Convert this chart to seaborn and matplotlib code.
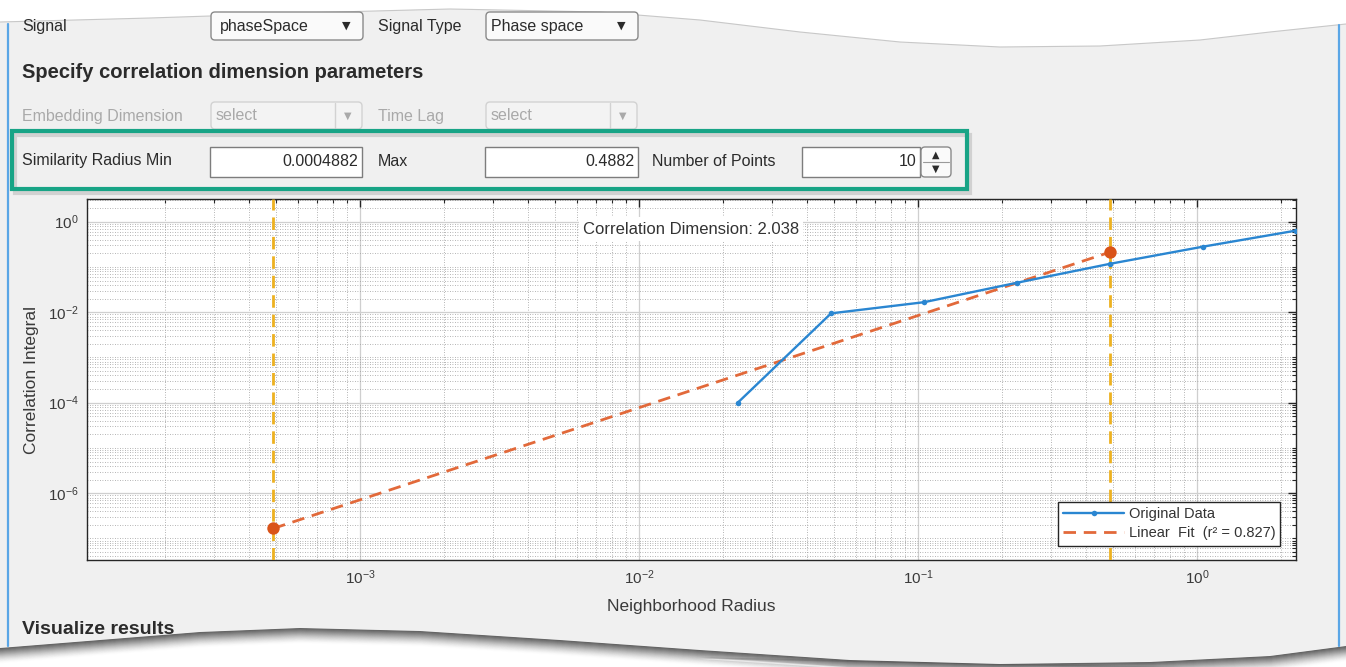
import numpy as np
import matplotlib
matplotlib.use("Agg")
import matplotlib.pyplot as plt
import matplotlib.ticker as mticker
from matplotlib.patches import Polygon, FancyBboxPatch, Rectangle
from matplotlib.lines import Line2D
from matplotlib.transforms import Affine2D
import seaborn as sns

# values
radius = [0.0226, 0.04882, 0.1052, 0.2266, 0.4882, 1.052, 2.266]
corr_integral = [1.0e-4, 0.0094, 0.0166, 0.0447, 0.117, 0.28, 0.634]
fit_radius = [0.0004882, 0.4882]
fit_integral = [1.66e-7, 0.212]
corr_dim = 2.038
r_squared = 0.827
x_ticks = [1e-3, 1e-2, 1e-1, 1e0]
y_ticks = [1e-6, 1e-4, 1e-2, 1e0]

W, H = 1346, 667
BLUE = "#2a86d1"
ORANGE = "#D95319"
FIT = "#e2693a"
YELLOW = "#EDB120"
PANEL = "#f0f0f0"
TXT = "#2b2b2b"

sns.set_style("white")
plt.rcParams["font.family"] = ["Liberation Sans", "DejaVu Sans"]
plt.rcParams["mathtext.fontset"] = "custom"
plt.rcParams["mathtext.rm"] = "Liberation Sans"
plt.rcParams["mathtext.it"] = "Liberation Sans:italic"

fig = plt.figure(figsize=(W / 100, H / 100), dpi=100, facecolor="white")
# pixel coordinates, y pointing down like the screenshot
T = Affine2D().scale(1, -1).translate(0, H)

# torn paper panel
top_edge = [(0, 22), (150, 18), (300, 13), (450, 9), (600, 12), (700, 20), (800, 32),
            (900, 42), (1000, 47), (1100, 46), (1200, 40), (1270, 32), (1346, 24)]
bottom_edge = [(1346, 646), (1270, 656), (1150, 662), (1000, 664), (850, 660), (700, 650),
               (560, 640), (420, 631), (300, 628), (200, 632), (100, 640), (0, 648)]
panel = Polygon(top_edge + bottom_edge, closed=True, facecolor=PANEL, edgecolor="none",
                transform=T, zorder=-5)
fig.add_artist(panel)
fig.add_artist(Line2D([p[0] for p in top_edge], [p[1] for p in top_edge], transform=T,
                      color="#c8c8c8", lw=0.8, zorder=-4))
bx = np.array([p[0] for p in bottom_edge], float)
by = np.array([p[1] for p in bottom_edge], float)
for k in range(16):
    fig.add_artist(Line2D(bx, by + k, transform=T, color="#404040",
                          alpha=0.7 * (1 - k / 16) ** 1.8, lw=1.2, zorder=-6))

# window borders
fig.add_artist(Line2D([8, 8], [24, 646], transform=T, color="#5aa6e6", lw=1.6, zorder=-3))
fig.add_artist(Line2D([1339, 1339], [25, 646], transform=T, color="#5aa6e6", lw=1.6, zorder=-3))


def ui_text(x, y, s, size=11.5, color=TXT, weight="normal", ha="left", family=None):
    t = fig.text(x, y, s, transform=T, fontsize=size, color=color, fontweight=weight,
                 ha=ha, va="center", zorder=2)
    if family:
        t.set_family(family)
    return t


def ui_box(x0, y0, x1, y1, face="white", edge="#7d7d7d", rounded=False, lw=1.0):
    style = "round,pad=0,rounding_size=4" if rounded else "square,pad=0"
    fig.add_artist(FancyBboxPatch((x0, y0), x1 - x0, y1 - y0, boxstyle=style, transform=T,
                                  facecolor=face, edgecolor=edge, lw=lw, zorder=1))


arrow_font = ["DejaVu Sans"]

# row 1
ui_text(22, 27, "Signal")
ui_box(211, 12, 363, 40, face="#fafafa", edge="#8a8a8a", rounded=True)
ui_text(220, 26, "phaseSpace")
ui_text(346, 26, "▼", size=8, family=arrow_font, ha="center")
ui_text(378, 27, "Signal Type")
ui_box(486, 12, 638, 40, face="#fafafa", edge="#8a8a8a", rounded=True)
ui_text(491, 26, "Phase space")
ui_text(621, 26, "▼", size=8, family=arrow_font, ha="center")

ui_text(22, 73, "Specify correlation dimension parameters", size=14.5, weight="bold")

# row 2 (disabled)
GREY = "#a9a9a9"
ui_text(22, 116, "Embedding Dimension", color=GREY)
ui_box(211, 102, 362, 129, face="#f3f3f3", edge="#d2d2d2", rounded=True)
ui_text(216, 116, "select", color=GREY)
fig.add_artist(Line2D([335, 335], [103, 128], transform=T, color="#d2d2d2", lw=1, zorder=2))
ui_text(348, 116, "▼", size=7, color=GREY, family=arrow_font, ha="center")
ui_text(378, 116, "Time Lag", color=GREY)
ui_box(486, 102, 637, 129, face="#f3f3f3", edge="#d2d2d2", rounded=True)
ui_text(491, 116, "select", color=GREY)
fig.add_artist(Line2D([610, 610], [103, 128], transform=T, color="#d2d2d2", lw=1, zorder=2))
ui_text(623, 116, "▼", size=7, color=GREY, family=arrow_font, ha="center")

# highlighted row
fig.add_artist(Rectangle((15, 135), 955, 58, transform=T, facecolor="none",
                         edgecolor="#bdbdbd", lw=3, zorder=0.5, alpha=0.6))
fig.add_artist(Rectangle((12, 131), 955, 58, transform=T, facecolor="none",
                         edgecolor="#18a486", lw=3, zorder=3))
ui_text(22, 161, "Similarity Radius Min")
ui_box(210, 147, 362, 177)
ui_text(358, 162, "0.0004882", ha="right")
ui_text(378, 161, "Max")
ui_box(485, 147, 638, 177)
ui_text(634, 162, "0.4882", ha="right")
ui_text(652, 161, "Number of Points")
ui_box(802, 147, 920, 177)
ui_text(916, 162, "10", ha="right")
ui_box(921, 147, 951, 177, face="#fafafa", edge="#8a8a8a", rounded=True)
fig.add_artist(Line2D([923, 949], [162, 162], transform=T, color="#9a9a9a", lw=0.8, zorder=2))
ui_text(936, 155, "▲", size=7, family=arrow_font, ha="center")
ui_text(936, 169, "▼", size=7, family=arrow_font, ha="center")

vis = ui_text(22, 629, "Visualize results", size=14, weight="bold")
vis.set_clip_path(panel)

# the plot
ax = fig.add_axes([87 / W, 1 - 560 / H, (1296 - 87) / W, (560 - 199) / H])
ax.set_facecolor("white")
ax.set_xscale("log")
ax.set_yscale("log")

for r in fit_radius:
    ax.axvline(r, color=YELLOW, lw=2, ls=(0, (4.5, 2.5)), zorder=3)

ax.plot(fit_radius, fit_integral, color=FIT, lw=2, ls=(0, (4.5, 2.8)), zorder=4,
        label=f"Linear  Fit  (r² = {r_squared})")
sns.lineplot(x=radius, y=corr_integral, ax=ax, color=BLUE, lw=1.7, marker="o",
             markersize=4, markeredgewidth=0, label="Original Data", zorder=5)
sns.scatterplot(x=fit_radius, y=fit_integral, ax=ax, color=ORANGE, s=80, linewidth=0,
                zorder=6, legend=False)

ax.set_xlim(1.05e-4, 2.266)
ax.set_ylim(10 ** -7.476, 10 ** 0.5)

ax.xaxis.set_major_locator(mticker.FixedLocator(x_ticks))
ax.xaxis.set_minor_locator(mticker.LogLocator(base=10, subs=np.arange(2, 10), numticks=50))
ax.yaxis.set_major_locator(mticker.FixedLocator(y_ticks))
ax.yaxis.set_minor_locator(mticker.LogLocator(base=10, subs=np.arange(1, 10), numticks=50))
ax.xaxis.set_major_formatter(mticker.LogFormatterSciNotation())
ax.yaxis.set_major_formatter(mticker.LogFormatterSciNotation())
ax.xaxis.set_minor_formatter(mticker.NullFormatter())
ax.yaxis.set_minor_formatter(mticker.NullFormatter())

ax.tick_params(which="both", direction="in", top=True, right=True, colors="#262626",
               labelcolor="#3a3a3a", labelsize=11)
ax.tick_params(which="major", length=6, width=1, pad=6)
ax.tick_params(which="minor", length=3, width=0.8)

ax.grid(True, which="major", color="#cfcfcf", lw=0.9, ls="-")
ax.grid(True, which="minor", color="#9c9c9c", lw=0.6, ls=(0, (1, 2)))
ax.set_axisbelow(True)
for sp in ax.spines.values():
    sp.set_color("#262626")
    sp.set_linewidth(1.0)

ax.set_xlabel("Neighborhood Radius", fontsize=12.5, color="#3a3a3a", labelpad=9)
ax.set_ylabel("Correlation Integral", fontsize=12.5, color="#3a3a3a", labelpad=6)

ax.text(691, 229, f"Correlation Dimension: {corr_dim}", transform=T, ha="center", va="center",
        fontsize=12, color="#333333", zorder=7,
        bbox=dict(facecolor="white", edgecolor="none", pad=3))

handles, labels = ax.get_legend_handles_labels()
i0 = labels.index("Original Data")
order = [i0, 1 - i0]
leg = ax.legend([handles[i] for i in order], [labels[i] for i in order],
                loc="lower right", bbox_to_anchor=(0.987, 0.04), frameon=True, fancybox=False,
                edgecolor="#262626", framealpha=1, fontsize=10.5, handlelength=4.2,
                borderpad=0.35, labelspacing=0.35, handletextpad=0.3, borderaxespad=0)
leg.get_frame().set_linewidth(1.0)
for t in leg.get_texts():
    t.set_color("#333333")

fig.savefig("out.png", dpi=100, facecolor="white")
